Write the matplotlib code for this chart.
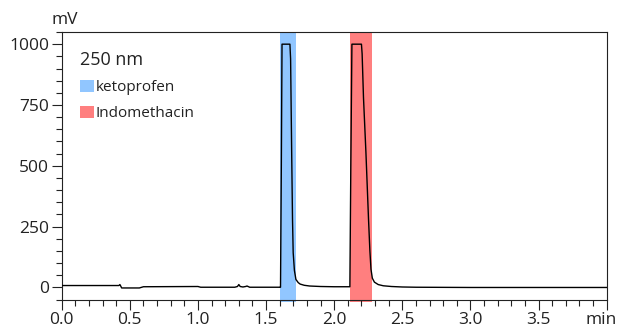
import matplotlib
matplotlib.use('Agg')
import matplotlib.pyplot as plt
from matplotlib.patches import Patch
from matplotlib.ticker import MultipleLocator

plt.rcParams['font.family'] = ['Open Sans', 'DejaVu Sans']

# chromatogram: retention time [min], signal [mV]
time_min = [0.00, 0.42, 0.427, 0.433, 0.44, 0.57, 0.60, 1.00, 1.02, 1.27, 1.29, 1.30, 1.31,
            1.33, 1.35, 1.36, 1.38, 1.600,
            1.606, 1.612, 1.617, 1.675, 1.680, 1.688, 1.694, 1.699, 1.708, 1.719, 1.736,
            1.750, 1.780, 1.820, 1.900, 2.000, 2.110,
            2.115, 2.122, 2.130, 2.200, 2.205, 2.215, 2.233, 2.252, 2.262, 2.270, 2.280,
            2.295, 2.323, 2.360, 2.420, 2.500, 2.600, 3.000, 3.500, 4.000]
signal_mv = [8, 8, 12, 6, -2, -2, 3, 4, 1, 1, 4, 12, 4,
             2, 4, 6, 1, 1,
             1, 500, 1000, 1000, 940, 550, 280, 143, 70, 33, 20,
             14, 9, 6, 4, 3, 3,
             3, 500, 1000, 1000, 960, 780, 553, 279, 150, 75, 38,
             22, 12, 7, 4, 2, 1, 0, 0, 0]

# highlighted peak windows
compounds = ['ketoprofen', 'Indomethacin']
band_start = [1.602, 2.115]
band_end = [1.720, 2.279]
band_colors = ['#91c6ff', '#ff7f7f']
wavelength = '250 nm'

x_ticks = [0.0, 0.5, 1.0, 1.5, 2.0, 2.5, 3.0, 3.5, 4.0]
x_labels = ['0.0', '0.5', '1.0', '1.5', '2.0', '2.5', '3.0', '3.5', '']

fig = plt.figure(figsize=(6.17, 3.30), dpi=100)
ax = fig.add_axes([0.1, 0.092, 0.8833, 0.811])

for s, e, c in zip(band_start, band_end, band_colors):
    ax.axvspan(s, e, ymin=-0.008, ymax=1, color=c, lw=0, clip_on=False, zorder=1)

ax.plot(time_min, signal_mv, color='black', lw=1.0, zorder=3)

ax.set_xlim(0, 4.0)
ax.set_ylim(-50, 1050)
ax.set_xticks(x_ticks)
ax.set_xticklabels(x_labels)
ax.xaxis.set_minor_locator(MultipleLocator(0.1))
ax.yaxis.set_major_locator(MultipleLocator(250))
ax.yaxis.set_minor_locator(MultipleLocator(50))
ax.tick_params(which='major', direction='out', length=7.2, width=0.8, labelsize=12.5,
               pad=2, colors='#222222')
ax.tick_params(which='minor', direction='out', length=4, width=0.8, colors='#222222')
for sp in ax.spines.values():
    sp.set_linewidth(0.8)
    sp.set_color('#222222')

ax.annotate('mV', xy=(0, 1), xycoords='axes fraction', xytext=(2, 3),
            textcoords='offset points', ha='center', va='bottom', fontsize=12.5, color='#222222')
ax.annotate('min', xy=(1, 0), xycoords='axes fraction', xytext=(-4, -9.2),
            textcoords='offset points', ha='center', va='top', fontsize=12.5, color='#222222')

handles = [Patch(facecolor=c, edgecolor='none') for c in band_colors]
leg = ax.legend(handles, compounds, title=wavelength, loc='upper left',
                bbox_to_anchor=(0.033, 0.93), frameon=False, fontsize=11,
                title_fontsize=13, alignment='left', borderpad=0, borderaxespad=0,
                handlelength=0.96, handleheight=0.83, handletextpad=0.07, labelspacing=0.72)
for t in leg.get_texts() + [leg.get_title()]:
    t.set_color('#222222')

fig.savefig('out.png', dpi=100)
